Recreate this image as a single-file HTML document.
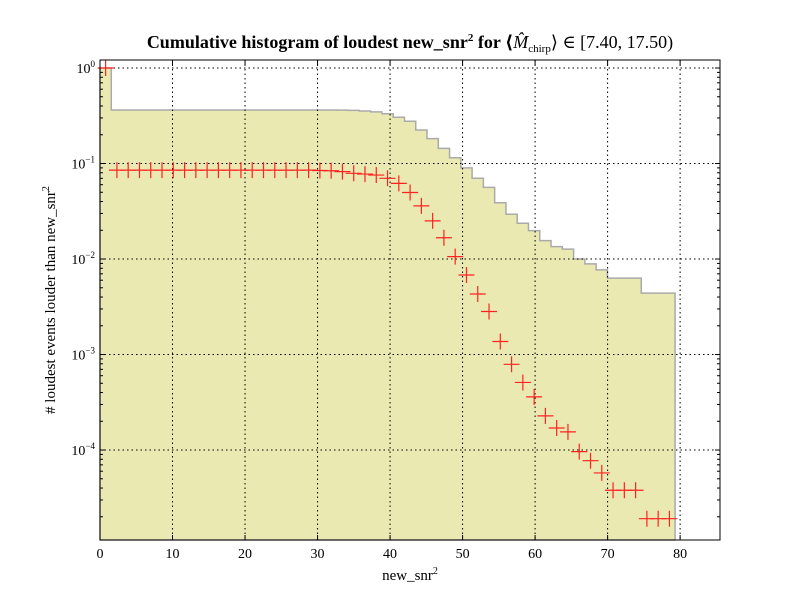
<!DOCTYPE html>
<html><head><meta charset="utf-8"><style>
body{margin:0;background:#fff}
svg{display:block;font-family:"Liberation Serif","DejaVu Serif",serif}
</style></head><body>
<svg id="chart" width="800" height="600">
<rect width="800" height="600" fill="#fff"/>
<text x="410" y="48" text-anchor="middle" font-size="18" font-weight="bold">Cumulative histogram of loudest new_snr<tspan font-size="11" dy="-7">2</tspan><tspan dy="7"> for ⟨</tspan><tspan font-style="italic" font-weight="normal">M̂</tspan><tspan font-size="11" dy="4" font-weight="normal">chirp</tspan><tspan dy="-4" font-weight="normal">⟩ ∈ [7.40, 17.50)</tspan></text>
<text x="410" y="580" text-anchor="middle" font-size="15">new_snr<tspan font-size="10" dy="-6">2</tspan></text>
<text transform="translate(55,300) rotate(-90)" text-anchor="middle" font-size="15">#  loudest events louder than new_snr<tspan font-size="10" dy="-6">2</tspan></text>
<g id="plot"></g>
</svg>
<script>
const binWidth = 1.555;
const histValues = [1,0.363,0.363,0.363,0.363,0.363,0.363,0.363,0.363,0.363,0.363,0.363,0.363,0.363,0.363,0.363,0.363,0.363,0.363,0.363,0.363,0.362,0.36,0.355,0.347,0.332,0.305,0.277,0.224,0.182,0.144,0.115,0.090,0.070,0.0563,0.0388,0.0294,0.0237,0.0198,0.0156,0.0135,0.0127,0.0100,0.0089,0.0077,0.0063,0.0063,0.0063,0.0044,0.0044,0.0044];
const markerValues = [1.0,0.0853,0.0853,0.0853,0.0853,0.0853,0.0853,0.0853,0.0853,0.0853,0.0853,0.0853,0.0853,0.0853,0.0853,0.0853,0.0853,0.0853,0.0853,0.0845,0.084,0.0822,0.079,0.0775,0.0757,0.070,0.062,0.0497,0.036,0.0251,0.0167,0.0106,0.0068,0.0043,0.00282,0.00137,0.00079,0.00051,0.00036,0.000228,0.00017,0.000155,0.0000963,0.0000773,0.0000576,0.0000379,0.0000379,0.0000379,0.0000191,0.0000191,0.0000191];
const xTicks = [0,10,20,30,40,50,60,70,80];
const yTickExps = [0,-1,-2,-3,-4];

const L=100,R=720,T=60,B=540, xMax=85.5, yMaxLog=0.0838, yMinLog=-4.942;
const X=v=>L+(v/xMax)*(R-L);
const Y=v=>T+(yMaxLog-Math.log10(v))/(yMaxLog-yMinLog)*(B-T);
const NS='http://www.w3.org/2000/svg';
const g=document.getElementById('plot');
function mk(tag,attrs,parent){const e=document.createElementNS(NS,tag);for(const k in attrs)e.setAttribute(k,attrs[k]);(parent||g).appendChild(e);return e;}

let d='M'+X(0)+','+B;
histValues.forEach((v,i)=>{d+=' L'+X(i*binWidth)+','+Y(v)+' L'+X((i+1)*binWidth)+','+Y(v);});
d+=' L'+X(histValues.length*binWidth)+','+B+' Z';
const hist=mk('path',{d:d,fill:'#ebe9b2',stroke:'#aaa','stroke-width':1.5});



xTicks.forEach(t=>{
  const ln=mk('line',{x1:X(t),x2:X(t),y1:T,y2:B,stroke:'#000','stroke-dasharray':'1.5,3','stroke-width':1});
  
  
  mk('line',{x1:X(t),x2:X(t),y1:B,y2:B-5,stroke:'#000'});
  mk('line',{x1:X(t),x2:X(t),y1:T,y2:T+5,stroke:'#000'});
  const tx=mk('text',{x:X(t),y:B+18,'text-anchor':'middle','font-size':14});
  tx.textContent=t;
  
  
});
yTickExps.forEach(e=>{
  const y=Y(Math.pow(10,e));
  const ln=mk('line',{x1:L,x2:R,y1:y,y2:y,stroke:'#000','stroke-dasharray':'1.5,3','stroke-width':1});
  
  
  mk('line',{x1:L,x2:L+5,y1:y,y2:y,stroke:'#000'});
  mk('line',{x1:R,x2:R-5,y1:y,y2:y,stroke:'#000'});
  const tx=mk('text',{x:L-5,y:y+5,'text-anchor':'end','font-size':14});
  tx.innerHTML='10<tspan font-size="9" dy="-6">'+(e<0?'−'+(-e):e)+'</tspan>';
  
  
});
for(let e=-5;e<=0;e++){for(let m=2;m<=9;m++){const v=m*Math.pow(10,e);const lv=Math.log10(v);if(lv<yMinLog||lv>yMaxLog)continue;const y=Y(v);
  mk('line',{x1:L,x2:L+3,y1:y,y2:y,stroke:'#000'});mk('line',{x1:R,x2:R-3,y1:y,y2:y,stroke:'#000'});}}

markerValues.forEach((v,i)=>{
  const cx=X((i+0.5)*binWidth), cy=Y(v);
  const m=mk('path',{d:'M'+(cx-8)+','+cy+' H'+(cx+8)+' M'+cx+','+(cy-8)+' V'+(cy+8),stroke:'#f22','stroke-width':1.2,fill:'none'});
  
  
});

const frame=mk('rect',{x:L,y:T,width:R-L,height:B-T,fill:'none',stroke:'#000','stroke-width':1});


</script>
</body></html>
